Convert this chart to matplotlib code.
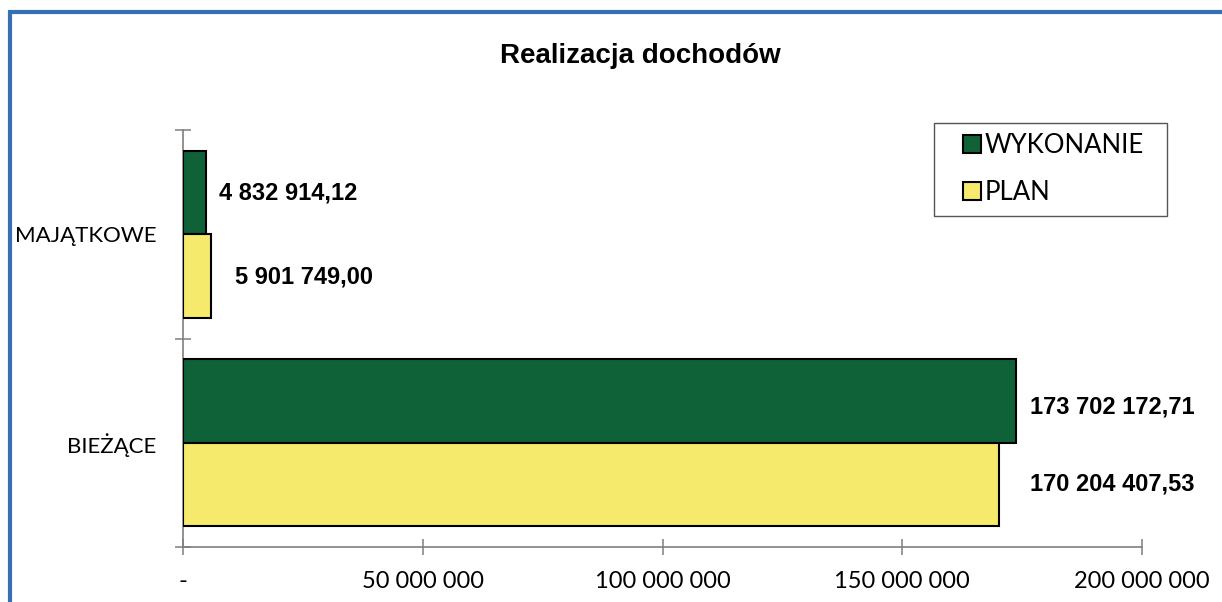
import matplotlib
matplotlib.use("Agg")
import matplotlib.pyplot as plt
from matplotlib.patches import Rectangle
from matplotlib.ticker import FuncFormatter

categories = ["BIEŻĄCE", "MAJĄTKOWE"]
wykonanie = [173702172.71, 4832914.12]
plan = [170204407.53, 5901749.00]
series_names = ["WYKONANIE", "PLAN"]
x_ticks = [0, 50000000, 100000000, 150000000, 200000000]
title = "Realizacja dochodów"

green = "#0f6238"
yellow = "#f6ea6c"

def fmt_pl(v):
    s = f"{v:,.2f}"
    return s.replace(",", " ").replace(".", ",")

W, H = 1222, 602
fig = plt.figure(figsize=(W / 100, H / 100), dpi=100)
fig.patch.set_facecolor("white")

# blue frame (cut at right and bottom in reference)
fig.patches.append(Rectangle((9.5 / W, -0.1), 1.2, 1.1 - 11.5 / H,
                             transform=fig.transFigure, fill=False,
                             edgecolor="#3670b4", linewidth=3, zorder=10))

# legend box (behind the transparent axes)
fig.patches.append(Rectangle((934 / W, 1 - 216 / H), (1167 - 934) / W,
                             (216 - 123) / H, transform=fig.transFigure,
                             fill=False, edgecolor="#555555", linewidth=1.0,
                             zorder=-1))

ax = fig.add_axes([183 / W, (H - 547) / H, 959 / W, 417 / H])
ax.set_facecolor("none")

ypos = list(range(len(categories)))
h = 0.4
ax.barh([y + h / 2 for y in ypos], wykonanie, height=h, color=green,
        edgecolor="black", linewidth=1.5, label=series_names[0], zorder=3)
ax.barh([y - h / 2 for y in ypos], plan, height=h, color=yellow,
        edgecolor="black", linewidth=1.5, label=series_names[1], zorder=3)

lab_font = dict(family="Liberation Sans", fontweight="bold", fontsize=17)
offs_w = [(10, -4), (9, 0)]
offs_p = [(22, 0), (17, -1)]
for i, y in enumerate(ypos):
    ax.annotate(fmt_pl(wykonanie[i]), xy=(wykonanie[i], y + h / 2),
                xytext=offs_w[i], textcoords="offset points",
                ha="left", va="center", **lab_font)
    ax.annotate(fmt_pl(plan[i]), xy=(plan[i], y - h / 2),
                xytext=offs_p[i], textcoords="offset points",
                ha="left", va="center", **lab_font)

ax.set_xlim(0, 200000000)
ax.set_ylim(-0.5, len(categories) - 0.5)
ax.set_xticks(x_ticks)
ax.xaxis.set_major_formatter(FuncFormatter(
    lambda v, p: "-" if v == 0 else f"{int(v):,}".replace(",", " ")))

ax.set_yticks([-0.5, 0.5, 1.5])
ax.set_yticklabels([])
ax.set_yticks(ypos, minor=True)
ax.set_yticklabels(categories, minor=True)

for sp in ["top", "right"]:
    ax.spines[sp].set_visible(False)
for sp in ["left", "bottom"]:
    ax.spines[sp].set_color("#7f7f7f")
    ax.spines[sp].set_linewidth(1.2)

ax.tick_params(axis="x", which="major", direction="inout", length=11,
               width=1.1, color="#7f7f7f", pad=12, labelsize=17)
ax.tick_params(axis="y", which="major", direction="inout", length=12,
               width=1.1, color="#7f7f7f")
ax.tick_params(axis="y", which="minor", length=0, pad=19, labelsize=16)
for t in ax.get_xticklabels() + ax.get_yticklabels(minor=True):
    t.set_family("Lato")

fig.text(640 / W, 1 - 56 / H, title, ha="center", va="center",
         family="Liberation Sans", fontweight="bold", fontsize=20)

leg = ax.legend(loc="upper left", bbox_to_anchor=(963 / W, 1 - 133 / H),
                bbox_transform=fig.transFigure, frameon=False,
                prop=dict(family="Lato", size=18.5),
                handlelength=0.7, handleheight=0.7, handletextpad=0.15,
                borderpad=0, labelspacing=0.85, borderaxespad=0)
for hnd in leg.legend_handles:
    hnd.set_linewidth(1.5)

fig.savefig("out.png", dpi=100)
